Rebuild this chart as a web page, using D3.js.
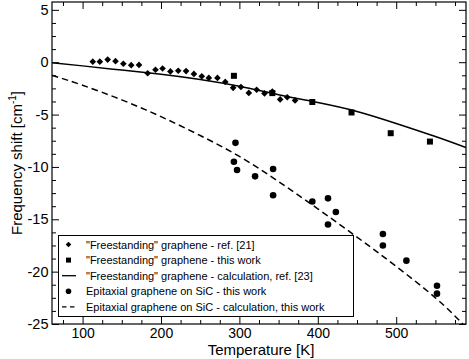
<!DOCTYPE html>
<html><head><meta charset="utf-8">
<script src="https://cdn.jsdelivr.net/npm/d3@7"></script>
<style>body{margin:0;background:#fff}svg{display:block}text{font-family:"Liberation Sans",Arial,sans-serif}</style>
</head><body><svg id="c" width="469" height="359"></svg>
<script>
// Freestanding graphene - ref. [21] (diamonds)
const refT = [113,122,132,142,152,162,172,183,193,202,212,222,232,242,252,261,272,282,292,302,312,322,332,342,352,361,371];
const refV = [0.05,0.05,0.25,0.1,-0.15,-0.28,-0.26,-1.05,-0.72,-0.6,-0.88,-0.82,-0.85,-1.12,-1.35,-1.5,-1.5,-1.88,-2.45,-2.37,-2.93,-2.63,-2.98,-2.8,-3.55,-3.35,-3.65];
// Freestanding graphene - this work (squares)
const fsT = [293,342,393,443,493,543];
const fsV = [-1.3,-2.95,-3.8,-4.8,-6.78,-7.58];
// Freestanding calc ref. [23] (solid line)
const fcT = [61,100,150,200,250,300,350,400,450,500,550,589];
const fcV = [-0.05,-0.35,-0.75,-1.15,-1.65,-2.3,-3.1,-3.85,-4.7,-5.85,-7.1,-8.15];
// Epitaxial graphene on SiC - this work (circles)
const epT = [295,293,297,320,343,343,393,413,423,413,483,483,513,552,552];
const epV = [-7.7,-9.5,-10.3,-10.9,-10.2,-12.7,-13.3,-13.0,-14.3,-15.5,-16.4,-17.5,-18.95,-21.35,-22.1];
// Epitaxial calc (dashed)
const ecT = [61,100,150,200,250,300,350,400,450,500,550,585];
const ecV = [-1.25,-2.2,-3.6,-5.2,-7.0,-9.0,-11.4,-14.0,-16.7,-19.5,-22.5,-25];

const xMajor = [100,200,300,400,500];
const yMajor = [5,0,-5,-10,-15,-20,-25];
const legendLabels = ['"Freestanding" graphene - ref. [21]','"Freestanding" graphene - this work','"Freestanding" graphene - calculation, ref. [23]','Epitaxial graphene on SiC - this work','Epitaxial graphene on SiC - calculation, this work'];

const svg = d3.select("#c");
const L=52, R=466, T=2, B=324;
const x = d3.scaleLinear().domain([61,589]).range([L,R]);
const y = d3.scaleLinear().domain([-25,5.75]).range([B,T]);
const fmt = d => String(d);

const g = svg.append("g");
const xMinor = d3.range(75,589,25).filter(v=>v%100!==0);
const yMinor = d3.range(-25,5.8,1.25).filter(v=>Math.abs(v%5)>0.01);
function ticks(axis){axis.selectAll("path").remove();axis.selectAll("line").attr("stroke","#000").attr("stroke-width",1);}
const ax1 = g.append("g").attr("transform",`translate(0,${B})`).call(d3.axisBottom(x).tickValues(xMajor).tickSize(-7).tickPadding(4).tickFormat(fmt));
ticks(ax1);
ax1.selectAll("text").attr("font-size","14px").attr("fill","#000").attr("font-family","Liberation Sans, Arial, sans-serif");
const ax1m = g.append("g").attr("transform",`translate(0,${B})`).call(d3.axisBottom(x).tickValues(xMinor).tickSize(-4).tickFormat(""));
ticks(ax1m);
const ax2 = g.append("g").attr("transform",`translate(0,${T})`).call(d3.axisTop(x).tickValues(xMajor).tickSize(-7).tickFormat(""));
ticks(ax2);
const ax2m = g.append("g").attr("transform",`translate(0,${T})`).call(d3.axisTop(x).tickValues(xMinor).tickSize(-4).tickFormat(""));
ticks(ax2m);
const ay1 = g.append("g").attr("transform",`translate(${L},0)`).call(d3.axisLeft(y).tickValues(yMajor).tickSize(-7).tickPadding(3.5).tickFormat(fmt));
ticks(ay1);
ay1.selectAll("text").attr("font-size","14.5px").attr("fill","#000").attr("font-family","Liberation Sans, Arial, sans-serif");
const ay1m = g.append("g").attr("transform",`translate(${L},0)`).call(d3.axisLeft(y).tickValues(yMinor).tickSize(-4).tickFormat(""));
ticks(ay1m);
const ay2 = g.append("g").attr("transform",`translate(${R},0)`).call(d3.axisRight(y).tickValues(yMajor).tickSize(-7).tickFormat(""));
ticks(ay2);
const ay2m = g.append("g").attr("transform",`translate(${R},0)`).call(d3.axisRight(y).tickValues(yMinor).tickSize(-4).tickFormat(""));
ticks(ay2m);

svg.append("clipPath").attr("id","clip").append("rect").attr("x",L).attr("y",T).attr("width",R-L).attr("height",B-T);
const plot = svg.append("g").attr("clip-path","url(#clip)");

const line = d3.line().x(d=>x(d[0])).y(d=>y(d[1])).curve(d3.curveNatural);
plot.append("path").attr("d",line(d3.zip(fcT,fcV))).attr("fill","none").attr("stroke","#000").attr("stroke-width",1.5);
plot.append("path").attr("d",line(d3.zip(ecT,ecV))).attr("fill","none").attr("stroke","#000").attr("stroke-width",1.5).attr("stroke-dasharray","6.5,4");

plot.selectAll(".dia").data(d3.zip(refT,refV)).join("path").attr("d",d3.symbol().type(d3.symbolSquare).size(22))
  .attr("transform",d=>`translate(${x(d[0])},${y(d[1])}) rotate(45)`).attr("fill","#000");
plot.selectAll(".sq").data(d3.zip(fsT,fsV)).join("rect").attr("x",d=>x(d[0])-3).attr("y",d=>y(d[1])-3).attr("width",6).attr("height",6).attr("fill","#000");
plot.selectAll(".ci").data(d3.zip(epT,epV)).join("circle").attr("cx",d=>x(d[0])).attr("cy",d=>y(d[1])).attr("r",3.3).attr("fill","#000");

svg.append("rect").attr("x",L).attr("y",T).attr("width",R-L).attr("height",B-T).attr("fill","none").attr("stroke","#000").attr("stroke-width",1.2);

// legend
const lg = svg.append("g");
lg.append("rect").attr("x",58.5).attr("y",235.5).attr("width",295).attr("height",81).attr("fill","#fff").attr("stroke","#000").attr("stroke-width",1);
const rowY = i => 244.5 + i*15.6;
const sx = 68.5;
lg.append("path").attr("d",d3.symbol().type(d3.symbolSquare).size(16)()).attr("transform",`translate(${sx},${rowY(0)}) rotate(45)`);
lg.append("rect").attr("x",sx-2.5).attr("y",rowY(1)-2.5).attr("width",5).attr("height",5);
lg.append("line").attr("x1",62).attr("x2",76).attr("y1",rowY(2)).attr("y2",rowY(2)).attr("stroke","#000").attr("stroke-width",1.3);
lg.append("circle").attr("cx",sx).attr("cy",rowY(3)).attr("r",2.8);
lg.append("line").attr("x1",62).attr("x2",76).attr("y1",rowY(4)).attr("y2",rowY(4)).attr("stroke","#000").attr("stroke-width",1.3).attr("stroke-dasharray","4.5,3.5");
lg.selectAll("text.l").data(legendLabels).join("text").attr("x",86).attr("y",(d,i)=>rowY(i)+4).attr("font-size","11px").text(d=>d);

// axis titles
svg.append("text").attr("x",(L+R)/2+2).attr("y",354.5).attr("text-anchor","middle").attr("font-size","15px").text("Temperature [K]");
const yt = svg.append("text").attr("transform",`translate(22,163) rotate(-90)`).attr("text-anchor","middle").attr("font-size","15px");
yt.append("tspan").text("Frequency shift [cm");
yt.append("tspan").attr("dy",-6).attr("font-size","10px").text("-1");
yt.append("tspan").attr("dy",6).text("]");
</script></body></html>
